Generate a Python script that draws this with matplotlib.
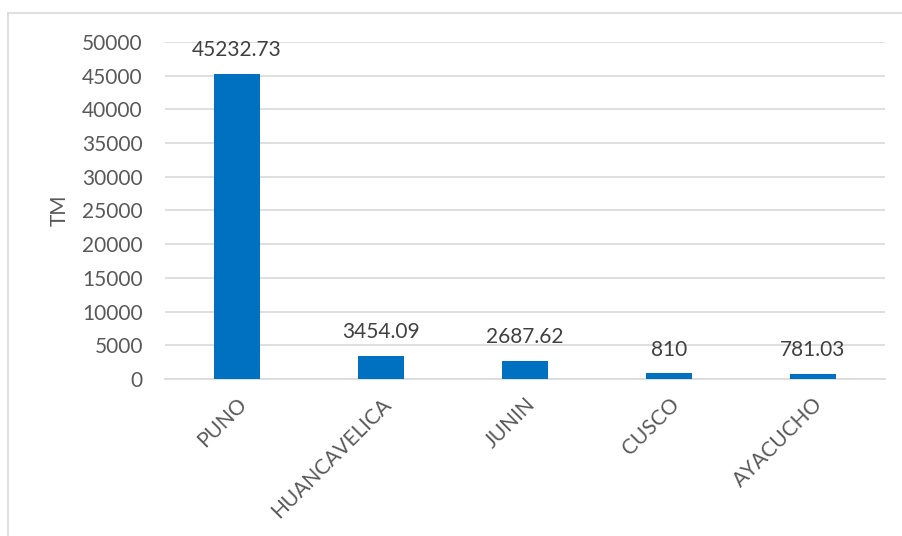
import numpy as np
import matplotlib.pyplot as plt
from matplotlib.lines import Line2D

regiones = ['PUNO', 'HUANCAVELICA', 'JUNIN', 'CUSCO', 'AYACUCHO']
toneladas = [45232.73, 3454.09, 2687.62, 810, 781.03]
etiquetas = ['45232.73', '3454.09', '2687.62', '810', '781.03']
yticks = np.arange(0, 50001, 5000)

plt.rcParams['font.family'] = ['Lato', 'DejaVu Sans']
gris = '#595959'
fs = 15

fig = plt.figure(figsize=(9.02, 5.36), dpi=100)
ax = fig.add_axes([0.183, 0.293, 0.798, 0.629])

x = np.arange(len(regiones))
ax.bar(x, toneladas, width=0.32, color='#0070C0', zorder=3)
for xi, v, t in zip(x, toneladas, etiquetas):
    ax.annotate(t, (xi, v), xytext=(0, 10), textcoords='offset points',
                ha='center', va='bottom', fontsize=fs, color='#404040')

ax.set_xlim(-0.5, len(regiones) - 0.5)
ax.set_ylim(0, 50000)
ax.set_yticks(yticks)
ax.set_yticklabels([str(v) for v in yticks], fontsize=fs, color=gris)
ax.set_xticks(x)
ax.set_xticklabels(regiones, fontsize=fs, color=gris, rotation=45,
                   ha='right', rotation_mode='anchor')
ax.tick_params(axis='both', length=0)
ax.tick_params(axis='y', pad=16)
ax.tick_params(axis='x', pad=11)
ax.set_ylabel('TM', fontsize=fs, color=gris, labelpad=9)

ax.grid(axis='y', color='#D9D9D9', linewidth=1.2, zorder=0)
for s in ['top', 'right', 'left']:
    ax.spines[s].set_visible(False)
ax.spines['bottom'].set_color('#D9D9D9')
ax.spines['bottom'].set_linewidth(1.2)

# marco del grafico
fig.add_artist(Line2D([8 / 902, 8 / 902], [0, 1 - 13 / 536], color='#D9D9D9', lw=1.2))
fig.add_artist(Line2D([8 / 902, 1], [1 - 13 / 536, 1 - 13 / 536], color='#D9D9D9', lw=1.2))

fig.savefig('out.png', dpi=100)
